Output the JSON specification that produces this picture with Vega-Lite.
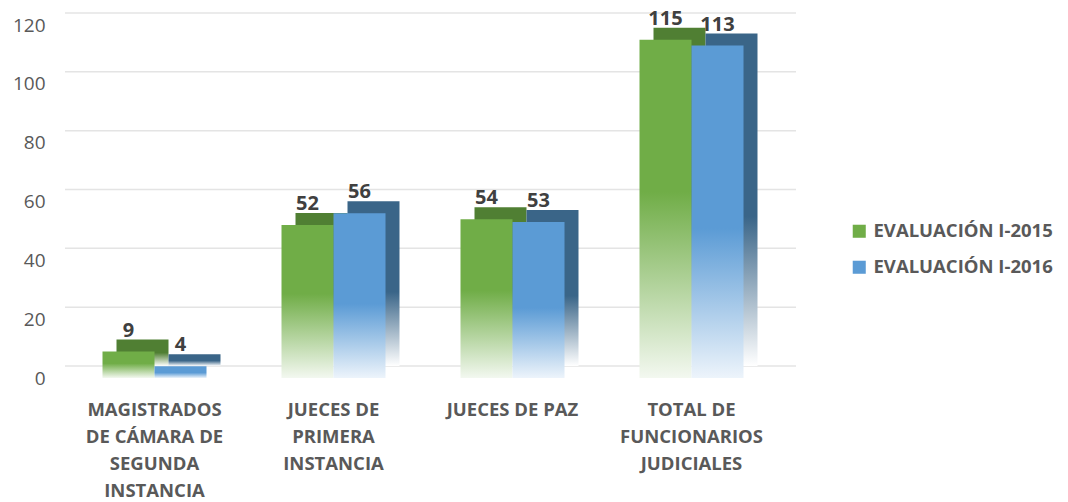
{
  "$schema": "https://vega.github.io/schema/vega-lite/v6.json",
  "autosize": "none",
  "width": 716,
  "height": 353,
  "padding": {"left": 65, "top": 25, "right": 287, "bottom": 124},
  "background": "white",
  "config": {
    "font": "Open Sans",
    "view": {"stroke": null}
  },
  "datasets": {
    "bars": [
      {"categoria": "MAGISTRADOS DE CÁMARA DE SEGUNDA INSTANCIA", "serie": "EVALUACIÓN I-2015", "valor": 9},
      {"categoria": "MAGISTRADOS DE CÁMARA DE SEGUNDA INSTANCIA", "serie": "EVALUACIÓN I-2016", "valor": 4},
      {"categoria": "JUECES DE PRIMERA INSTANCIA", "serie": "EVALUACIÓN I-2015", "valor": 52},
      {"categoria": "JUECES DE PRIMERA INSTANCIA", "serie": "EVALUACIÓN I-2016", "valor": 56},
      {"categoria": "JUECES DE PAZ", "serie": "EVALUACIÓN I-2015", "valor": 54},
      {"categoria": "JUECES DE PAZ", "serie": "EVALUACIÓN I-2016", "valor": 53},
      {"categoria": "TOTAL DE FUNCIONARIOS JUDICIALES", "serie": "EVALUACIÓN I-2015", "valor": 115},
      {"categoria": "TOTAL DE FUNCIONARIOS JUDICIALES", "serie": "EVALUACIÓN I-2016", "valor": 113}
    ],
    "grid": [{"v": 0}, {"v": 20}, {"v": 40}, {"v": 60}, {"v": 80}, {"v": 100}, {"v": 120}]
  },
  "layer": [
    {
      "data": {"name": "grid"},
      "mark": {"type": "rule", "color": "#E4E4E4", "strokeWidth": 1.5, "xOffset": 15, "x2Offset": 15, "yOffset": -12},
      "encoding": {
        "y": {
          "field": "v", "type": "quantitative", "scale": {"domain": [0, 120]},
          "axis": {
            "title": null, "domain": false, "ticks": false, "grid": false,
            "values": [0, 20, 40, 60, 80, 100, 120],
            "labelPadding": 20, "labelFontSize": 19, "labelColor": "#595959"
          }
        }
      }
    },
    {
      "data": {"name": "bars"},
      "encoding": {
        "x": {
          "field": "categoria", "type": "nominal", "sort": null,
          "scale": {"paddingInner": 0.42, "paddingOuter": 0.21},
          "axis": {
            "title": null, "domain": false, "ticks": false, "labelAngle": 0,
            "labelPadding": 22, "labelBaseline": "top",
            "labelFontSize": 18.5, "labelFontWeight": "bold", "labelColor": "#595959",
            "labelLineHeight": 27, "labelLimit": 220,
            "labelExpr": "datum.value == 'MAGISTRADOS DE CÁMARA DE SEGUNDA INSTANCIA' ? ['MAGISTRADOS', 'DE CÁMARA DE', 'SEGUNDA', 'INSTANCIA'] : datum.value == 'JUECES DE PRIMERA INSTANCIA' ? ['JUECES DE', 'PRIMERA', 'INSTANCIA'] : datum.value == 'TOTAL DE FUNCIONARIOS JUDICIALES' ? ['TOTAL DE', 'FUNCIONARIOS', 'JUDICIALES'] : datum.value"
          }
        },
        "y": {
          "field": "valor", "type": "quantitative",
          "scale": {"domain": [0, 120]}
        }
      },
      "layer": [
        {
          "transform": [{"filter": "datum.serie == 'EVALUACIÓN I-2015'"}],
          "mark": {"type": "bar", "width": 52, "xOffset": -12, "yOffset": -12, "y2Offset": -12,
            "fill": {"gradient": "linear", "x1": 0, "y1": 0, "x2": 0, "y2": 1, "stops": [{"offset": 0, "color": "#507F33"}, {"offset": 0.5, "color": "#507F33"}, {"offset": 1, "color": "#FFFFFF"}]}}
        },
        {
          "transform": [{"filter": "datum.serie == 'EVALUACIÓN I-2015'"}],
          "mark": {"type": "bar", "width": 52, "xOffset": -26,
            "fill": {"gradient": "linear", "x1": 0, "y1": 0, "x2": 0, "y2": 1, "stops": [{"offset": 0, "color": "#70AD47"}, {"offset": 0.45, "color": "#70AD47"}, {"offset": 1, "color": "#F3F8F0"}]}}
        },
        {
          "transform": [{"filter": "datum.serie == 'EVALUACIÓN I-2016'"}],
          "mark": {"type": "bar", "width": 52, "xOffset": 40, "yOffset": -12, "y2Offset": -12,
            "fill": {"gradient": "linear", "x1": 0, "y1": 0, "x2": 0, "y2": 1, "stops": [{"offset": 0, "color": "#3A6588"}, {"offset": 0.55, "color": "#3A6588"}, {"offset": 1, "color": "#FFFFFF"}]}}
        },
        {
          "transform": [{"filter": "datum.serie == 'EVALUACIÓN I-2016'"}],
          "mark": {"type": "bar", "width": 52, "xOffset": 26,
            "fill": {"gradient": "linear", "x1": 0, "y1": 0, "x2": 0, "y2": 1, "stops": [{"offset": 0, "color": "#5B9BD5"}, {"offset": 0.55, "color": "#5B9BD5"}, {"offset": 1, "color": "#EDF4FB"}]}}
        },
        {
          "mark": {"type": "bar", "width": 52, "opacity": 0},
          "encoding": {
            "color": {
              "field": "serie", "type": "nominal",
              "scale": {"domain": ["EVALUACIÓN I-2015", "EVALUACIÓN I-2016"], "range": ["#70AD47", "#5B9BD5"]},
              "legend": {
                "title": null, "orient": "none", "legendX": 785, "legendY": 197,
                "symbolType": "square", "symbolSize": 170, "symbolOpacity": 1, "symbolStrokeWidth": 0,
                "labelFontSize": 18.5, "labelFontWeight": "bold", "labelColor": "#595959",
                "labelOffset": 5, "rowPadding": 17, "labelLimit": 300
              }
            }
          }
        },
        {
          "transform": [{"filter": "datum.serie == 'EVALUACIÓN I-2015'"}],
          "mark": {"type": "text", "dy": -21, "xOffset": -26, "fontSize": 20, "fontWeight": "bold", "color": "#404040"},
          "encoding": {"text": {"field": "valor", "type": "quantitative"}}
        },
        {
          "transform": [{"filter": "datum.serie == 'EVALUACIÓN I-2016'"}],
          "mark": {"type": "text", "dy": -21, "xOffset": 26, "fontSize": 20, "fontWeight": "bold", "color": "#404040"},
          "encoding": {"text": {"field": "valor", "type": "quantitative"}}
        }
      ]
    }
  ]
}
